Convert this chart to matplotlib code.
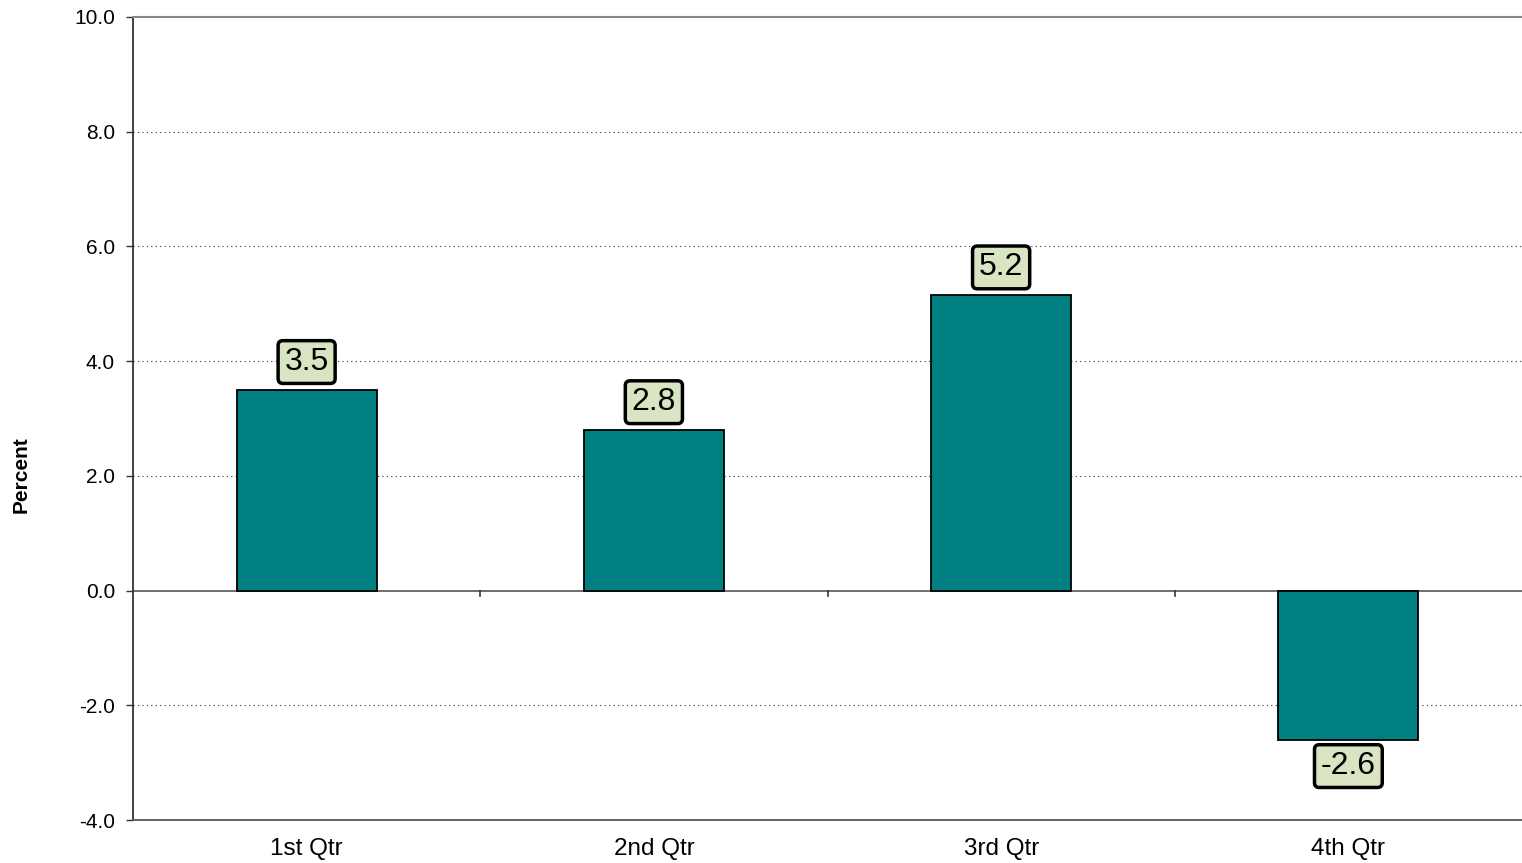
import matplotlib
matplotlib.use("Agg")
import matplotlib.pyplot as plt

categories = ["1st Qtr", "2nd Qtr", "3rd Qtr", "4th Qtr"]
values = [3.5, 2.8, 5.15, -2.6]
value_labels = ["3.5", "2.8", "5.2", "-2.6"]
yticks = [-4.0, -2.0, 0.0, 2.0, 4.0, 6.0, 8.0, 10.0]

plt.rcParams['font.family'] = ['Liberation Sans', 'DejaVu Sans']

fig = plt.figure(figsize=(15.22, 8.63), dpi=100)
ax = fig.add_axes([133/1522, 1 - 820/863, 1 - 133/1522, (820 - 17)/863])

x = list(range(len(categories)))
ax.bar(x, values, width=0.403, color="#008080", edgecolor="black", linewidth=1.3, zorder=3)

ax.set_xlim(-0.5, len(categories) - 0.5)
ax.set_ylim(-4, 10)
ax.set_yticks(yticks)
ax.set_yticklabels([f"{v:.1f}" for v in yticks], fontsize=15)
ax.set_xticks(x)
ax.set_xticklabels(categories, fontsize=17.5)
ax.tick_params(axis="x", length=0, pad=13)
ax.tick_params(axis="y", length=5, width=1, pad=8, color="#333333")

for v in yticks:
    if v not in (0.0, 10.0, -4.0):
        ax.axhline(v, color="#333333", linestyle=(0, (1, 3)), linewidth=0.8, zorder=1)
ax.axhline(0, color="#555555", linewidth=1.2, zorder=2)

# category boundary ticks on zero line
for b in [i + 0.5 for i in x[:-1]]:
    ax.plot([b, b], [0, -0.1], color="#333333", linewidth=1.2, zorder=2)

ax.spines["right"].set_visible(False)
ax.spines["top"].set_color("#888888")
ax.spines["top"].set_linewidth(1.5)
ax.spines["left"].set_color("#333333")
ax.spines["left"].set_linewidth(1.3)
ax.spines["bottom"].set_color("#555555")
ax.spines["bottom"].set_linewidth(1.3)

for xi, v, lab in zip(x, values, value_labels):
    off = 20 if v >= 0 else -19
    ax.annotate(lab, (xi, v), xytext=(0, off), textcoords="offset points",
                ha="center", va="center", fontsize=23, zorder=5,
                bbox=dict(boxstyle="round,pad=0.2,rounding_size=0.15",
                          facecolor="#d9e4c2", edgecolor="black", linewidth=2.5))

ax.set_ylabel("Percent", fontsize=15, fontweight="bold")
ax.yaxis.set_label_coords(-(133 - 31)/1389, (820 - 475)/803)

fig.savefig("out.png", dpi=100)
